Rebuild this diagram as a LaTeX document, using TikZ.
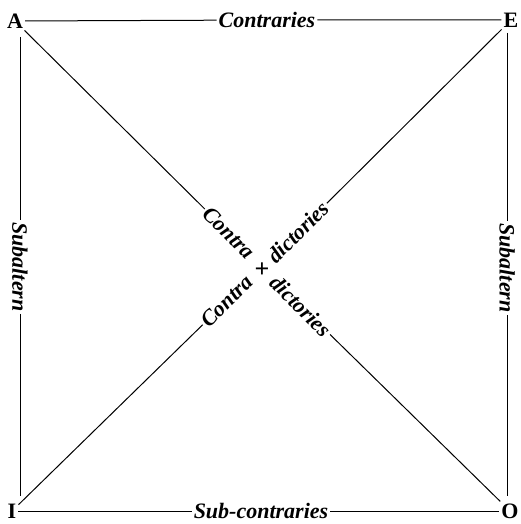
\documentclass[tikz,border=0pt]{standalone}
\usepackage{fontspec}
\setmainfont{Liberation Serif}
\begin{document}
\begin{tikzpicture}[x=1pt,y=-1pt,
  lbl/.style={font=\fontsize{22}{24}\selectfont\bfseries\itshape, inner sep=2pt},
  corner/.style={font=\fontsize{22}{24}\selectfont\bfseries, inner sep=2pt},
  ln/.style={line width=1pt, line cap=butt}]
\useasboundingbox (0,0) rectangle (520,524);
% corner letters
\node[corner] (A) at (15,21) {A};
\node[corner] (E) at (511,20) {E};
\node[corner] (I) at (12,511) {I};
\node[corner] (O) at (510,511) {O};
% edge labels
\node[lbl] (contr) at (267,20) {Contraries};
\node[lbl] (subc) at (261,511) {Sub-contraries};
\node[lbl, rotate=-90] (subL) at (20,267) {Subaltern};
\node[lbl, rotate=-90] (subR) at (507,268) {Subaltern};
% free ends of the side lines
\coordinate (L1) at (20,37);
\coordinate (L2) at (20,496);
\coordinate (R1) at (507,33);
\coordinate (R2) at (507,496);
% centre labels
\node[lbl, rotate=-45] (c1) at (229,233) {Contra};
\node[lbl, rotate=-45] (d2) at (301,306) {dictories};
\node[lbl, rotate=45] (d1) at (298,232) {dictories};
\node[lbl, rotate=45] (c2) at (227,301) {Contra};
\node[font=\fontsize{26}{28}\selectfont\bfseries, inner sep=0pt] (plus) at (262,270) {+};
% sides
\draw[ln] (A) -- (contr) -- (E);
\draw[ln] (I) -- (subc) -- (O);
\draw[ln] (L1) -- (subL) -- (L2);
\draw[ln] (R1) -- (subR) -- (R2);
% diagonals
\draw[ln] (A) -- (c1);
\draw[ln] (d2) -- (O);
\draw[ln] (E) -- (d1);
\draw[ln] (c2) -- (I);
\end{tikzpicture}
\end{document}
